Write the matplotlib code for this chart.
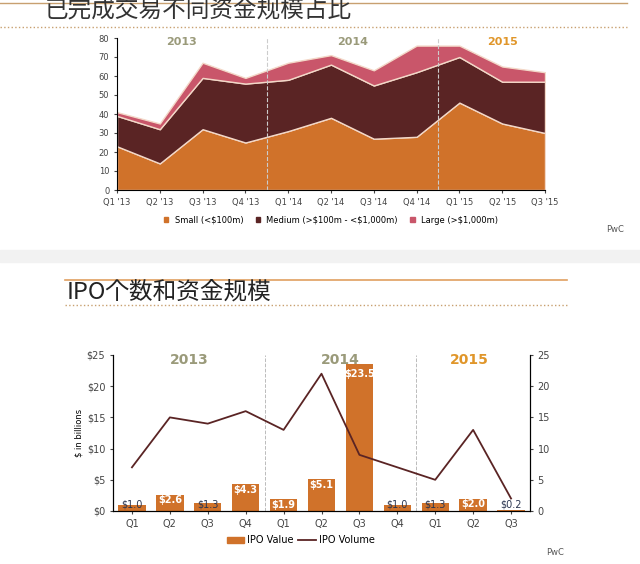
import numpy as np
import matplotlib.pyplot as plt
from matplotlib import font_manager

# pick whichever CJK family is actually registered
cjk_names = {f.name for f in font_manager.fontManager.ttflist}
cjk = next((n for n in ["Noto Sans CJK SC", "Noto Sans CJK JP", "Noto Sans CJK TC",
                        "Noto Sans CJK KR", "Noto Sans SC"] if n in cjk_names), "DejaVu Sans")
plt.rcParams["font.family"] = ["DejaVu Sans", cjk]

# top chart: deals by size
quarters_top = ["Q1 '13", "Q2 '13", "Q3 '13", "Q4 '13", "Q1 '14", "Q2 '14",
                "Q3 '14", "Q4 '14", "Q1 '15", "Q2 '15", "Q3 '15"]
small = [23, 14, 32, 25, 31, 38, 27, 28, 46, 35, 30]
medium = [16, 18, 27, 31, 27, 28, 28, 34, 24, 22, 27]
large = [2, 3, 8, 3, 9, 5, 8, 14, 6, 8, 5]

# bottom chart: IPOs
quarters_bot = ["Q1", "Q2", "Q3", "Q4", "Q1", "Q2", "Q3", "Q4", "Q1", "Q2", "Q3"]
ipo_value = [1.0, 2.6, 1.3, 4.3, 1.9, 5.1, 23.5, 1.0, 1.3, 2.0, 0.2]
ipo_volume = [7, 15, 14, 16, 13, 22, 9, 7, 5, 13, 2]

years = ["2013", "2014", "2015"]
year_colors = ["#9a9a7a", "#9a9a7a", "#e0962a"]

W, H = 640, 564
fig = plt.figure(figsize=(W / 100, H / 100), dpi=100)
fig.patch.set_facecolor("white")

def box(l, t, r, b):
    return [l / W, 1 - b / H, (r - l) / W, (b - t) / H]

orange = "#d0722a"
maroon = "#5a2424"
pink = "#c9566a"

# ---- top panel ----
fig.add_artist(plt.Line2D([0, 0.98], [1 - 3 / H] * 2, color="#c8a070", lw=1))
fig.add_artist(plt.Line2D([0, 0.98], [1 - 27 / H] * 2, color="#c8a070", lw=1, ls=":"))
fig.text(45 / W, 1 - 10 / H, "已完成交易不同资金规模占比", fontsize=17,
         family=cjk, va="center", color="#333333")

ax = fig.add_axes(box(117, 38, 545, 190))
x = np.arange(len(small))
ax.stackplot(x, small, medium, large, colors=[orange, maroon, pink],
             edgecolor="#f3d8c8", linewidth=1)
ax.set_xlim(0, len(x) - 1)
ax.set_ylim(0, 80)
ax.set_yticks(range(0, 81, 10))
ax.set_xticks(x)
ax.set_xticklabels(quarters_top)
ax.tick_params(labelsize=6, length=2, colors="#444444")
for s in ["top", "right"]:
    ax.spines[s].set_visible(False)
for xv in [3.5, 7.5]:
    ax.axvline(xv, color="#cccccc", ls="--", lw=0.8)
for i, yr in enumerate(years):
    ax.text([1.5, 5.5, 9][i], 78, yr, ha="center", va="center", fontsize=8,
            fontweight="bold", color=year_colors[i])
h = [plt.Rectangle((0, 0), 1, 1, color=c) for c in [orange, maroon, pink]]
ax.legend(h, [r"Small (<\$100m)", r"Medium (>\$100m - <\$1,000m)", r"Large (>\$1,000m)"],
          loc="upper center", bbox_to_anchor=(0.5, -0.12), ncol=3, frameon=False,
          fontsize=6, handlelength=0.5, handleheight=0.5, columnspacing=1.5)
fig.text(615 / W, 1 - 232 / H, "PwC", fontsize=6, color="#555555", ha="center")

# divider between panels
fig.add_artist(plt.Rectangle((0, 1 - 262 / H), 1, 12 / H, color="#f2f2f2"))

# ---- bottom panel ----
fig.add_artist(plt.Line2D([65 / W, 567 / W], [1 - 280 / H] * 2, color="#e0a060", lw=1.2))
fig.add_artist(plt.Line2D([65 / W, 567 / W], [1 - 305 / H] * 2, color="#c8a070", lw=1, ls=":"))
fig.text(67 / W, 1 - 292 / H, "IPO个数和资金规模", fontsize=17,
         family=cjk, va="center", color="#222222")

ax2 = fig.add_axes(box(113, 355, 530, 511))
xb = np.arange(len(ipo_value))
ax2.bar(xb, ipo_value, width=0.72, color=orange)
ax2.set_xlim(-0.5, len(xb) - 0.5)
ax2.set_ylim(0, 25)
ax2.set_yticks(range(0, 26, 5))
ax2.set_yticklabels([f"${v}" for v in range(0, 26, 5)])
ax2.set_ylabel(r"\$ in billions", fontsize=6, labelpad=2)
ax2.set_xticks(xb)
ax2.set_xticklabels(quarters_bot)
ax2.tick_params(labelsize=7, length=2, colors="#444444")
for i, v in enumerate(ipo_value):
    if v >= 20:
        ax2.text(i, v - 1.5, f"${v:.1f}", ha="center", va="center", fontsize=7,
                 color="white", fontweight="bold")
    elif v > 1.5:
        ax2.text(i, v - 0.9, f"${v:.1f}", ha="center", va="center", fontsize=7,
                 color="white", fontweight="bold")
    else:
        ax2.text(i, 1.0, f"${v:.1f}", ha="center", va="center", fontsize=7,
                 color="#2a3550")
for xv in [3.5, 7.5]:
    ax2.axvline(xv, color="#bbbbbb", ls="--", lw=0.7)
for i, yr in enumerate(years):
    ax2.text([1.5, 5.5, 8.9][i], 24.2, yr, ha="center", va="center", fontsize=10,
             fontweight="bold", color=year_colors[i])
ax2.spines["top"].set_visible(False)

ax3 = ax2.twinx()
ax3.plot(xb, ipo_volume, color=maroon, lw=1.3)
ax3.set_ylim(0, 25)
ax3.set_yticks(range(0, 26, 5))
ax3.tick_params(labelsize=7, length=2, colors="#444444")
ax3.spines["top"].set_visible(False)

hb = [plt.Rectangle((0, 0), 1, 1, color=orange), plt.Line2D([], [], color=maroon, lw=1.3)]
ax2.legend(hb, ["IPO Value", "IPO Volume"], loc="upper center",
           bbox_to_anchor=(0.45, -0.1), ncol=2, frameon=False, fontsize=7,
           handlelength=1.8, handleheight=0.6, columnspacing=0.5, handletextpad=0.3)
fig.text(555 / W, 1 - 555 / H, "PwC", fontsize=6, color="#555555", ha="center")

fig.savefig("out.png", dpi=100)
